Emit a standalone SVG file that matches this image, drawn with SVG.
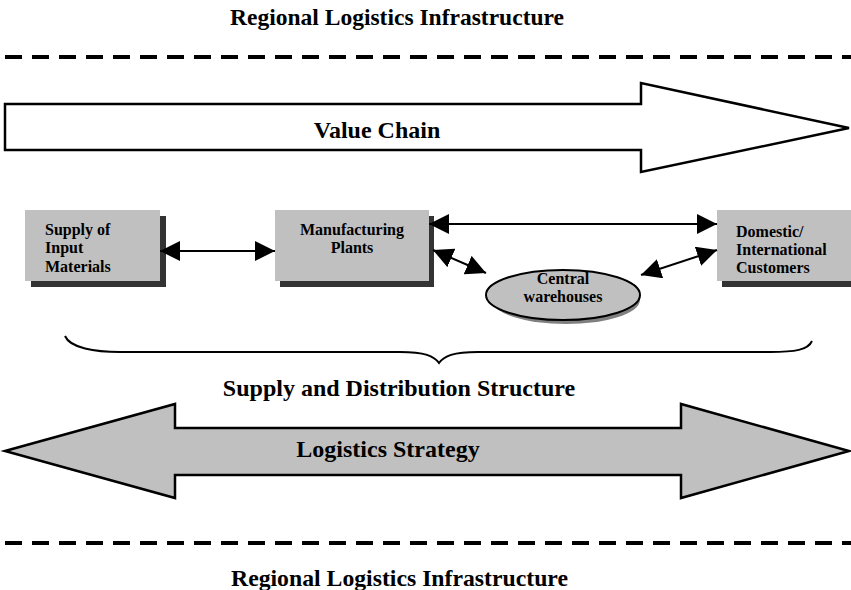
<svg xmlns="http://www.w3.org/2000/svg" width="851" height="590" viewBox="0 0 851 590">
  <style>
    .title { font-family: "Liberation Serif", "Times New Roman", serif; font-weight: bold; font-size: 23px; fill: #000; }
    .big { font-family: "Liberation Serif", "Times New Roman", serif; font-weight: bold; font-size: 24px; fill: #000; }
    .lbl { font-family: "Liberation Serif", "Times New Roman", serif; font-weight: bold; font-size: 16px; fill: #000; }
    .dash { stroke: #000; stroke-width: 4; stroke-dasharray: 17 10; fill: none; }
    .box { fill: #c0c0c0; }
    .shadow { fill: #333; }
    .conn { stroke: #000; stroke-width: 2; fill: none; marker-start: url(#head); marker-end: url(#head); }
  </style>
  <defs>
    <marker id="head" viewBox="0 0 20 20" refX="20" refY="10" markerWidth="20" markerHeight="20" markerUnits="userSpaceOnUse" orient="auto-start-reverse">
      <path d="M0,0 L20,10 L0,20 Z" fill="#000"/>
    </marker>
  </defs>
  <rect width="851" height="590" fill="#fff"/>

  <!-- infrastructure boundaries -->
  <g id="infra-top">
    <text class="title" x="230" y="25" textLength="334" lengthAdjust="spacingAndGlyphs">Regional Logistics Infrastructure</text>
    <line class="dash" x1="5" y1="57" x2="851" y2="57"/>
  </g>
  <g id="infra-bottom">
    <line class="dash" x1="5" y1="543" x2="851" y2="543"/>
    <text class="title" x="231" y="586" textLength="337" lengthAdjust="spacingAndGlyphs">Regional Logistics Infrastructure</text>
  </g>

  <!-- value chain arrow -->
  <g id="value-chain">
    <path d="M5,104 L641,104 L641,83 L849,128 L641,172 L641,150 L5,150 Z" fill="#fff" stroke="#000" stroke-width="2.5" stroke-linejoin="miter"/>
    <text class="big" x="377" y="138" text-anchor="middle">Value Chain</text>
  </g>

  <!-- supply and distribution nodes -->
  <g id="supply">
    <rect class="shadow" x="31" y="216" width="135" height="71"/>
    <rect class="box" x="25" y="210" width="135" height="71"/>
    <text class="lbl" x="45" y="235">Supply of</text>
    <text class="lbl" x="45" y="253">Input</text>
    <text class="lbl" x="45" y="272">Materials</text>
  </g>
  <g id="manufacturing">
    <rect class="shadow" x="280" y="216" width="154" height="71"/>
    <rect class="box" x="275" y="210" width="154" height="71"/>
    <text class="lbl" x="352" y="235" text-anchor="middle">Manufacturing</text>
    <text class="lbl" x="352" y="253" text-anchor="middle">Plants</text>
  </g>
  <g id="customers">
    <rect class="shadow" x="722" y="216" width="129" height="71"/>
    <rect class="box" x="717" y="210" width="134" height="71"/>
    <text class="lbl" x="736" y="237">Domestic/</text>
    <text class="lbl" x="736" y="255">International</text>
    <text class="lbl" x="736" y="273">Customers</text>
  </g>
  <g id="warehouses">
    <ellipse cx="566" cy="300" rx="74" ry="24" fill="#808080"/>
    <ellipse cx="563" cy="295" rx="77" ry="25" fill="#c0c0c0" stroke="#000" stroke-width="2"/>
    <text class="lbl" x="563" y="284" text-anchor="middle">Central</text>
    <text class="lbl" x="563" y="302" text-anchor="middle">warehouses</text>
  </g>

  <!-- connectors -->
  <g id="connectors">
    <line class="conn" x1="160" y1="251" x2="275" y2="251"/>
    <line class="conn" x1="429" y1="224" x2="717" y2="224"/>
    <line class="conn" x1="433" y1="250" x2="486" y2="273"/>
    <line class="conn" x1="641" y1="275" x2="717" y2="250"/>
  </g>

  <!-- brace over the supply and distribution structure -->
  <g id="structure">
    <path d="M65,336 C70,348 95,352 120,352 L400,352 C425,352 434,356 439,363 C444,356 453,352 478,352 L770,352 C795,352 808,350 812,341" fill="none" stroke="#000" stroke-width="2"/>
    <text class="big" x="399" y="396" text-anchor="middle">Supply and Distribution Structure</text>
  </g>

  <!-- logistics strategy double arrow -->
  <g id="logistics-strategy">
    <path d="M5,451 L175,404 L175,428 L681,428 L681,404 L849,451 L681,498 L681,475 L175,475 L175,498 Z" fill="#c0c0c0" stroke="#000" stroke-width="2.5"/>
    <text class="big" x="388" y="457" text-anchor="middle">Logistics Strategy</text>
  </g>
</svg>
